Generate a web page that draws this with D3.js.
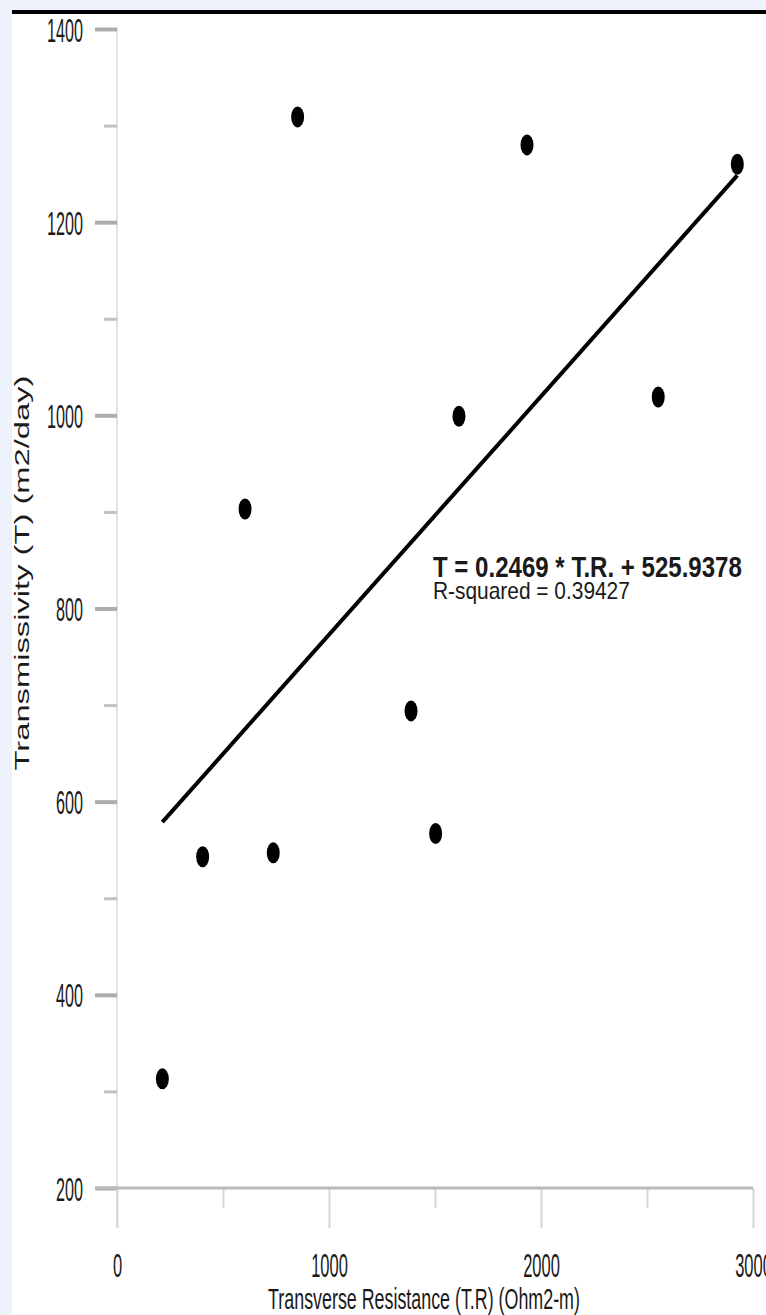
<!DOCTYPE html>
<html>
<head>
<meta charset="utf-8">
<script src="https://cdn.jsdelivr.net/npm/d3@7"></script>
<style>
  html, body { margin: 0; padding: 0; background: #eef2fb; }
  svg { display: block; }
  text { font-family: "Liberation Sans", Arial, sans-serif; fill: #1a1a1a; }
</style>
</head>
<body>
<svg id="chart" width="766" height="1315"></svg>
<script>
// Transverse resistance (Ohm2-m) and transmissivity (m2/day) per sounding
const resistance = [214, 404, 737, 604, 852, 1387, 1503, 1613, 1934, 2553, 2926];
const transmissivity = [313, 543, 547, 903, 1309, 694, 567, 999, 1280, 1019, 1260];

// Fitted linear model and its summary
const slope = 0.2469;
const intercept = 525.9378;
const equationLabel = "T = 0.2469 * T.R. + 525.9378";
const rSquaredLabel = "R-squared = 0.39427";

// Axis ticks
const xMajorTicks = [0, 1000, 2000, 3000];
const xMinorTicks = [500, 1500, 2500];
const yMajorTicks = [200, 400, 600, 800, 1000, 1200, 1400];
const yMinorTicks = [300, 500, 700, 900, 1100, 1300];

const xTitle = "Transverse Resistance (T.R) (Ohm2-m)";
const yTitle = "Transmissivity (T) (m2/day)";

const svg = d3.select("#chart");

// page frame: white plotting sheet with a black rule along the top
svg.append("rect").attr("x", 0).attr("y", 0).attr("width", 766).attr("height", 1315).attr("fill", "#eef2fb");
svg.append("rect").attr("x", 12).attr("y", 14).attr("width", 754).attr("height", 1301).attr("fill", "#ffffff");
svg.append("rect").attr("x", 12).attr("y", 10).attr("width", 754).attr("height", 4).attr("fill", "#000000");

const x = d3.scaleLinear().domain([0, 3000]).range([117, 753]);
const y = d3.scaleLinear().domain([200, 1400]).range([1188, 29]);

// squeeze a text element horizontally to the given width, optionally stretching it vertically
function fitWidth(sel, width, sy = 1) {
  sel.each(function () {
    const t = d3.select(this);
    const w = this.getComputedTextLength();
    const base = t.attr("data-base") || "";
    t.attr("transform", base + ` scale(${width / w},${sy})`);
  });
}

// ---- Y axis ----
svg.append("line")
  .attr("x1", x(0)).attr("x2", x(0))
  .attr("y1", y(1400) - 2).attr("y2", y(200) + 40)
  .attr("stroke", "#e2e2e2").attr("stroke-width", 2);

const yMinor = svg.append("g").attr("transform", `translate(${x(0)},0)`)
  .call(d3.axisLeft(y).tickValues(yMinorTicks).tickSize(13).tickFormat(""));
yMinor.select(".domain").remove();
yMinor.selectAll(".tick line").attr("stroke", "#c2c2c2").attr("stroke-width", 3);

const yMajor = svg.append("g").attr("transform", `translate(${x(0)},0)`)
  .call(d3.axisLeft(y).tickValues(yMajorTicks).tickSize(22).tickFormat(d3.format("d")));
yMajor.select(".domain").remove();
yMajor.selectAll(".tick line").attr("stroke", "#adadad").attr("stroke-width", 4);
yMajor.selectAll(".tick text")
  .attr("font-size", 33).attr("fill", "#1a1a1a")
  .attr("x", null).attr("dy", null).attr("y", 12)
  .attr("text-anchor", "end")
  .attr("transform", "translate(-34,0) scale(0.49,1)");

// ---- X axis ----
const xMinor = svg.append("g").attr("transform", `translate(0,${y(200)})`)
  .call(d3.axisBottom(x).tickValues(xMinorTicks).tickSize(20).tickFormat(""));
xMinor.select(".domain").remove();
xMinor.selectAll(".tick line").attr("stroke", "#d6d6d6").attr("stroke-width", 2);

const xMajor = svg.append("g").attr("transform", `translate(0,${y(200)})`)
  .call(d3.axisBottom(x).tickValues(xMajorTicks).tickSize(40).tickFormat(d3.format("d")));
xMajor.select(".domain").remove();
xMajor.selectAll(".tick line").attr("stroke", "#d6d6d6").attr("stroke-width", 2);
xMajor.selectAll(".tick text")
  .attr("font-size", 33).attr("fill", "#1a1a1a")
  .attr("y", null).attr("dy", null)
  .attr("text-anchor", "middle")
  .attr("transform", "translate(0,89) scale(0.5,1)");

svg.append("line")
  .attr("x1", x(0) - 22).attr("x2", x(3000))
  .attr("y1", y(200)).attr("y2", y(200))
  .attr("stroke", "#bababa").attr("stroke-width", 3);

// ---- axis titles ----
svg.append("text")
  .attr("font-size", 26)
  .attr("text-anchor", "middle")
  .attr("data-base", "translate(424,1309)")
  .text(xTitle)
  .call(fitWidth, 312, 1.12);

svg.append("text")
  .attr("font-size", 20)
  .attr("text-anchor", "middle")
  .attr("data-base", "translate(28.5,573) rotate(-90)")
  .text(yTitle)
  .call(fitWidth, 395);

// ---- regression line across the observed range ----
const xExtent = d3.extent(resistance);
const fitLine = d3.line().x(d => x(d)).y(d => y(slope * d + intercept));
svg.append("path")
  .datum(xExtent)
  .attr("d", fitLine)
  .attr("fill", "none")
  .attr("stroke", "#000")
  .attr("stroke-width", 4);

// ---- observations ----
const points = resistance.map((r, i) => ({ r, t: transmissivity[i] }));
svg.append("g").selectAll("ellipse")
  .data(points)
  .join("ellipse")
  .attr("cx", d => x(d.r))
  .attr("cy", d => y(d.t))
  .attr("rx", 6.5)
  .attr("ry", 10.5)
  .attr("fill", "#000");

// ---- model annotation ----
svg.append("text")
  .attr("font-size", 23)
  .attr("font-weight", "bold")
  .attr("data-base", "translate(433,577)")
  .text(equationLabel)
  .call(fitWidth, 309, 1.3);

svg.append("text")
  .attr("font-size", 18)
  .attr("data-base", "translate(433,599)")
  .text(rSquaredLabel)
  .call(fitWidth, 197, 1.3);
</script>
</body>
</html>
